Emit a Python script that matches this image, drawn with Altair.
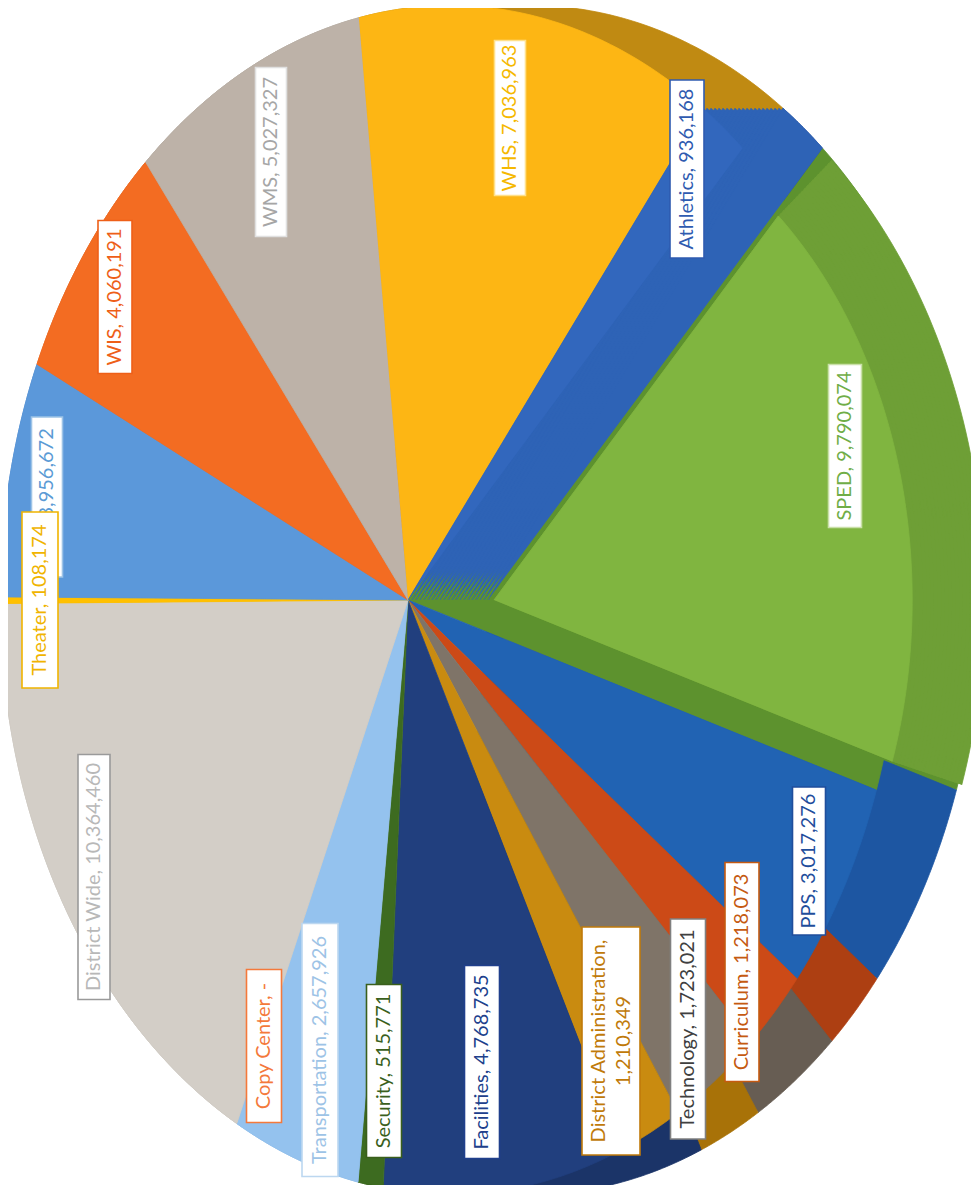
import altair as alt
import pandas as pd

# ---------------- data ----------------
CATEGORIES = ["WHS", "Athletics", "SPED", "PPS", "Curriculum", "Technology",
              "District Administration", "Facilities", "Security", "Transportation",
              "Copy Center", "District Wide", "Theater", "HES", "WIS", "WMS"]
VALUES = [7036963, 936168, 9790074, 3017276, 1218073, 1723021,
          1210349, 4768735, 515771, 2657926,
          0, 10364460, 108174, 3956672, 4060191, 5027327]

# ---------------- styles ----------------
SLICE_COLORS = ["#fdb614", "#3267bd", "#80b540", "#2163b3", "#cc4a17", "#7f7468",
                "#c98b10", "#213f7e", "#3d6b20", "#94c2ee",
                "#f47b3e", "#d3cec7", "#ffc000", "#5b98da", "#f36c22", "#bdb2a8"]
WALL_COLORS = ["#c08a12", "#2a4f94", "#6e9f36", "#1d56a2", "#ad3f12", "#675d53",
               "#a87208", "#1b3468", "#325a1a", "#7fb0e0",
               "#d8662c", "#bdb8b0", "#e0a800", "#4b82c2", "#d45c1a", "#a59b91"]
LABEL_COLORS = ["#f5b800", "#2f5bb0", "#70ad47", "#1f4e9c", "#c55a11", "#404040",
                "#c07a0a", "#203f8c", "#3a5f1c", "#9dc3e6",
                "#f4793b", "#b8b8b8", "#f0b400", "#5b9bd5", "#ee5f18", "#a6a6a6"]
BORDER_COLORS = ["#ffe08a", "#2f5bb0", "#c9e0a8", "#1f4e9c", "#c55a11", "#808080",
                 "#c07a0a", "#203f8c", "#3a5f1c", "#bcd7f0",
                 "#f4793b", "#9a9a9a", "#f0b400", "#9dc3e6", "#ee5f18", "#e0e0e0"]
GAP_COLOR = "#2e63b6"
SPED_FOOT = "#5d922e"

# label layout (page pixels)
LABEL_X = [510, 687, 845, 809, 742, 688, 611, 482, 384, 320, 264, 94, 40, 47, 115, 271]
LABEL_Y = [118, 169, 446, 861, 972, 1029, 1041, 1062, 1071, 1050, 1046, 877, 600, 497, 297, 152]
BOX_LEN = [155, 178, 163, 148, 219, 220, 228, 193, 173, 253, 153, 245, 176, 160, 153, 169]
BOX_W = [31, 34, 33, 33, 34, 35, 58, 35, 35, 36, 35, 32, 36, 31, 34, 31]

# ---------------- geometry ----------------
M = 8                      # page margin
X0, Y0 = 408 - M, 600 - M  # pie apex
A, B, K = 446, 592, -0.0935
OFFSET = -6.4 * 3.141592653589793 / 180
N = 60
W, H = 963, 1177
LINE_H = 25
# exploded SPED slice: top face and outer edge of its wall (apex shift, scale)
SPED_FACE = (86, 0.85)
SPED_BACK = (98, 0.973)

df = pd.DataFrame({
    "idx": list(range(len(CATEGORIES))),
    "category": CATEGORIES,
    "value": VALUES,
    "col": SLICE_COLORS,
    "wall": WALL_COLORS,
})

xs = alt.Scale(domain=[0, W], range=[0, W])
ys = alt.Scale(domain=[0, H], range=[0, H])


def polygons(filter_expr, dx, scale, color_expr):
    return (
        alt.Chart(df)
        .transform_window(cum="sum(value)", sort=[alt.SortField("idx")], frame=[None, 0])
        .transform_joinaggregate(total="sum(value)")
        .transform_filter("datum.value > 0")
        .transform_filter(filter_expr)
        .transform_calculate(
            t0=f"{OFFSET} + 2*PI*(datum.cum - datum.value)/datum.total",
            t1=f"{OFFSET} + 2*PI*datum.cum/datum.total",
            k=f"sequence(0, {N + 2})",
        )
        .transform_flatten(["k"])
        .transform_calculate(a=f"datum.t0 + (datum.t1 - datum.t0)*(datum.k - 1)/{N}")
        .transform_calculate(den=f"1 + ({K})*sin(datum.a)")
        .transform_calculate(
            px=f"datum.k == 0 ? {X0 + dx} : {X0 + dx} + {scale * A}*sin(datum.a)/datum.den",
            py=f"datum.k == 0 ? {Y0} : {Y0} - {scale * B}*cos(datum.a)/datum.den",
            fc=color_expr,
        )
        .mark_line(filled=True, strokeWidth=0.8, clip=True, interpolate="linear")
        .encode(
            x=alt.X("px:Q", scale=xs, axis=None),
            y=alt.Y("py:Q", scale=ys, axis=None),
            detail="category:N",
            order=alt.Order("k:Q"),
            fill=alt.Fill("fc:N", scale=None),
            stroke=alt.Stroke("fc:N", scale=None),
        )
    )


layers = []
NOT_SPED = "datum.category != 'SPED'"
IS_SPED = "datum.category == 'SPED'"
SHIFTS = list(range(0, 81, 4))
# seat of the exploded SPED slice (backing for the gaps)
for d in SHIFTS:
    layers.append(polygons(IS_SPED, d, 1.0, f"'{SPED_FOOT}'"))
# outer wall of the pie (all slices but SPED)
for d in SHIFTS:
    layers.append(polygons(NOT_SPED, d, 1.0, "datum.wall"))
# SPED's empty seat and the exploded slice's own wall
layers.append(polygons(IS_SPED, 0, 1.0, f"'{SPED_FOOT}'"))
STEPS = 20
for i in range(STEPS, -1, -1):
    f = i / STEPS
    dx = SPED_FACE[0] + f * (SPED_BACK[0] - SPED_FACE[0])
    sc = SPED_FACE[1] + f * (SPED_BACK[1] - SPED_FACE[1])
    layers.append(polygons(IS_SPED, dx, sc, "datum.wall"))
# Athletics side face seen in the gap
for d in SHIFTS:
    layers.append(polygons("datum.category == 'Athletics'", d, 1.0, f"'{GAP_COLOR}'"))
# top faces
layers.append(polygons(NOT_SPED, 0, 1.0, "datum.col"))
layers.append(polygons(IS_SPED, SPED_FACE[0], SPED_FACE[1], "datum.col"))

# ---------------- labels ----------------
labels = []
for c, v in zip(CATEGORIES, VALUES):
    vs = f"{v:,}" if v else "-"
    if c == "District Administration":
        labels.append(f"{c},\n{vs}")
    else:
        labels.append(f"{c}, {vs}")

lab = pd.DataFrame({
    "category": CATEGORIES,
    "label": labels,
    "lx": [x - M for x in LABEL_X],
    "ly": [y - M for y in LABEL_Y],
    "tdx": [-(s.count("\n")) * LINE_H / 2 for s in labels],
    "blen": BOX_LEN,
    "bw": BOX_W,
    "tc": LABEL_COLORS,
    "bc": BORDER_COLORS,
})


def label_layer(filter_expr):
    base = alt.Chart(lab).transform_filter(filter_expr).transform_calculate(
        bx0="datum.lx - datum.bw/2", bx1="datum.lx + datum.bw/2",
        by0="datum.ly - datum.blen/2", by1="datum.ly + datum.blen/2",
        tx="datum.lx + datum.tdx",
    )
    box = base.mark_rect(fill="white", strokeWidth=1.6).encode(
        x=alt.X("bx0:Q", scale=xs, axis=None), x2="bx1:Q",
        y=alt.Y("by0:Q", scale=ys, axis=None), y2="by1:Q",
        stroke=alt.Stroke("bc:N", scale=None),
    )
    txt = base.mark_text(angle=270, align="center", baseline="middle", font="Lato",
                         fontSize=20, lineBreak="\n", lineHeight=LINE_H).encode(
        x=alt.X("tx:Q", scale=xs, axis=None),
        y=alt.Y("ly:Q", scale=ys, axis=None),
        text="label:N",
        fill=alt.Fill("tc:N", scale=None),
    )
    return [box, txt]


layers += label_layer("datum.category != 'Theater'")
layers += label_layer("datum.category == 'Theater'")

chart = (
    alt.layer(*layers)
    .properties(width=W, height=H, padding=0, autosize="none", background="white")
    .configure_view(stroke=None)
)

chart.save("out.html", embed_options={"renderer": "svg", "actions": False})
